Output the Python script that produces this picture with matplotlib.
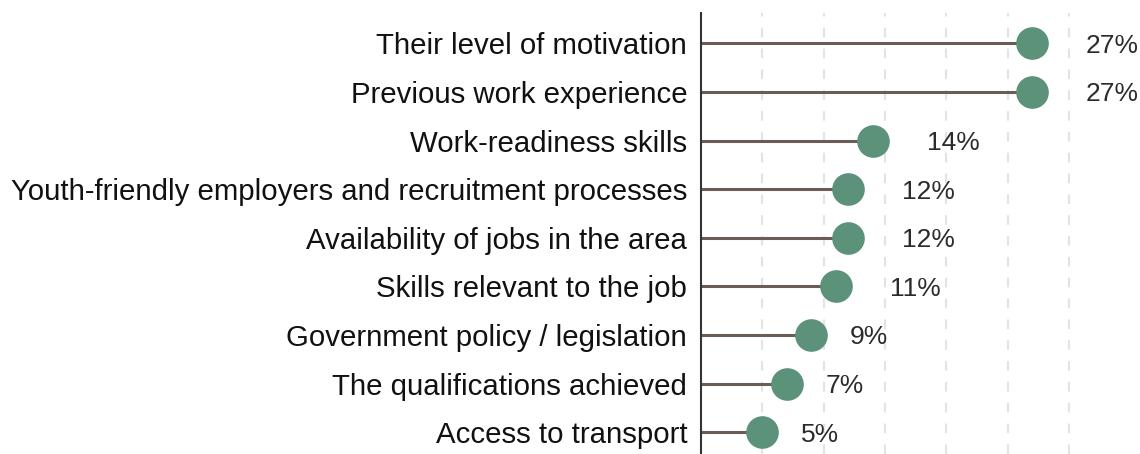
import numpy as np
import matplotlib
matplotlib.use('agg')
import matplotlib.pyplot as plt

plt.rcParams['font.family'] = ['Liberation Sans', 'DejaVu Sans']

# данные
factors = [
    "Their level of motivation",
    "Previous work experience",
    "Work-readiness skills",
    "Youth-friendly employers and recruitment processes",
    "Availability of jobs in the area",
    "Skills relevant to the job",
    "Government policy / legislation",
    "The qualifications achieved",
    "Access to transport",
]
shares = [27, 27, 14, 12, 12, 11, 9, 7, 5]
grid_ticks = [5, 10, 15, 20, 25, 30]

dot_color = '#5b9279'
stem_color = '#6b5d56'

fig = plt.figure(figsize=(11.4, 4.54), dpi=100)
ax = fig.add_axes([0.615, 0.0, 0.385, 0.971])

y = np.arange(len(factors))
ax.hlines(y, 0, shares, color=stem_color, lw=2.2, zorder=2)
ax.scatter(shares, y, s=23.5 ** 2, color=dot_color, zorder=3, linewidths=0)

for yi, v in zip(y, shares):
    label = f"{v}%"
    # отступ подписи от точки
    off = 23 + 15.5 * len(str(v))
    ax.annotate(label, (v, yi), xytext=(off * 0.72, 0), textcoords='offset points',
                ha='left', va='center_baseline', fontsize=19, color='#2b2b2b')

for t in grid_ticks:
    ax.axvline(t, color='#e3e3e3', lw=1.5, ls=(0, (4.6, 5.4)), zorder=1)

ax.set_xlim(0, 35.8)
ax.set_ylim(len(factors) - 1 + 0.45, -0.62)
ax.set_yticks(y)
ax.set_yticklabels(factors, fontsize=21.2, color='#111111')
ax.tick_params(axis='y', length=0, pad=10)
ax.set_xticks([])

for s in ['top', 'right', 'bottom']:
    ax.spines[s].set_visible(False)
ax.spines['left'].set_color('#333333')
ax.spines['left'].set_linewidth(1.5)

fig.savefig('out.png', dpi=100)
